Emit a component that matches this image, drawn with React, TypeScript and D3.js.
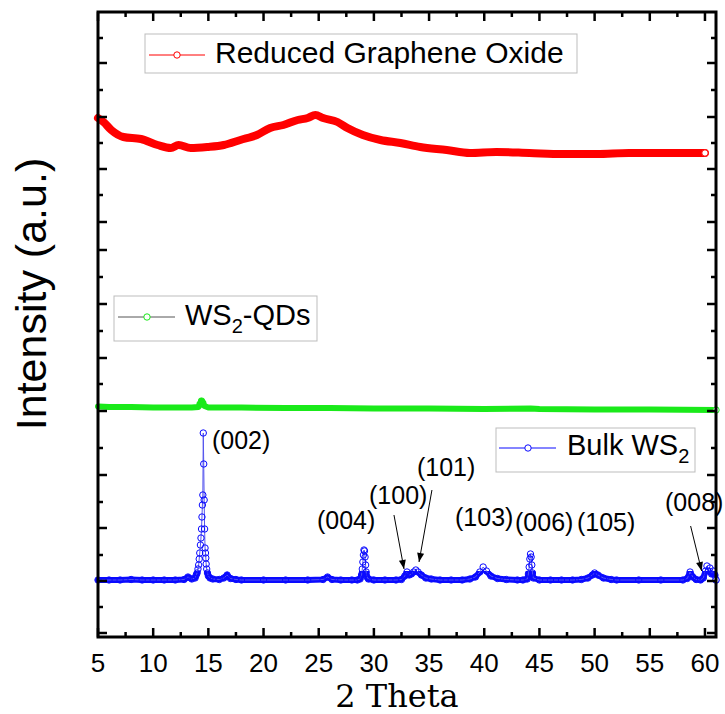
import React from 'react';
import * as d3 from 'd3';

const W = 725;
const H = 714;
const PLOT = { left: 98, right: 716, top: 12, bottom: 637 };

const xDomain: [number, number] = [5, 61];
const yDomain: [number, number] = [0, 625];

const xMajorTicks = [5, 10, 15, 20, 25, 30, 35, 40, 45, 50, 55, 60];
const xMinorTicks = [7.5, 12.5, 17.5, 22.5, 27.5, 32.5, 37.5, 42.5, 47.5, 52.5, 57.5];
const yMajorTicks = [4, 56, 109, 162, 226, 279, 333, 387, 415, 468, 520, 574];
const yMinorTicks = [30, 82, 135, 189, 253, 306, 360, 442, 494, 547, 599];

// Reduced Graphene Oxide
const rgoX = [5.0, 5.5, 6.2, 7.3, 8.9, 10.4, 11.6, 12.3, 13.4, 14.9, 16.4, 17.9, 19.4, 20.6, 21.8, 23.1, 24.0, 24.7, 25.4, 26.7, 27.6, 29.0, 30.6, 32.4, 34.2, 36.6, 38.7, 41.1, 44.1, 47.1, 50.2, 53.1, 56.1, 58.0, 60.0];
const rgoY = [519, 515, 507, 500, 498, 492, 489, 492, 489, 490, 492, 497, 502, 509, 512, 517, 519, 522, 519, 515, 509, 502, 497, 494, 490, 487, 484, 485, 484, 483, 483, 484, 484, 484, 484];

// WS2-QDs
const qdX = [5, 6, 8, 10, 12, 13.5, 14.1, 14.25, 14.38, 14.5, 14.65, 15, 18, 22, 26, 30, 35, 40, 44.2, 45, 50, 55, 61];
const qdY = [230.5, 230, 230, 229.5, 229.5, 229.5, 230, 233, 236, 234, 231, 229.5, 229.5, 229, 229, 228.5, 228.5, 228, 228.5, 228, 227.5, 227.5, 227];

// Bulk WS2
const bulkX = [5, 6, 7, 8, 9, 10, 11, 12, 12.8, 13.15, 13.5, 13.8,
  13.9, 13.98, 14.06, 14.12, 14.17, 14.22, 14.28, 14.33, 14.38, 14.42, 14.46, 14.5, 14.54, 14.58, 14.62, 14.66, 14.7, 14.74, 14.77, 14.8, 14.85, 14.92, 15.0, 15.15, 15.4,
  16, 16.4, 16.7, 17.0, 17.5, 18, 20, 22, 24, 25.4, 25.8, 26.2, 27, 28, 28.5,
  28.75, 28.88, 28.95, 29.0, 29.05, 29.1, 29.15, 29.2, 29.25, 29.3, 29.38, 29.5,
  30, 31, 32, 32.5, 32.8, 33.0, 33.2, 33.4, 33.6, 33.8, 34.0, 34.3, 34.7, 35.2, 36, 37, 38, 38.7, 39.2, 39.6, 39.9, 40.2, 40.6, 41.2, 42, 43, 43.5,
  43.9, 44.0, 44.07, 44.13, 44.19, 44.25, 44.31, 44.37, 44.45,
  45, 46, 47, 48, 48.8, 49.4, 49.8, 50.0, 50.3, 50.8, 51.5, 52, 54, 56, 58, 58.4, 58.65, 58.9, 59.2, 59.6, 59.85, 60.05, 60.18, 60.3, 60.45, 60.6, 60.75, 60.9, 61];
const bulkY = [57, 57, 57, 57.5, 57, 57, 57, 57, 57.5, 60, 58, 59,
  62, 64, 68, 72, 78, 84, 92, 99, 108, 120, 132, 142, 204, 173, 137, 108, 89, 84, 79, 73, 68, 64, 61, 59, 58,
  57.5, 59, 62, 58.5, 57.5, 57, 57, 57, 57, 57.5, 60, 57.5, 57, 57, 57,
  58, 62, 68, 75, 82, 87, 86, 80, 72, 65, 60, 58,
  57, 57, 57, 57.5, 61, 65, 62, 63, 65, 67, 65, 62, 59, 58, 57, 57, 57, 58, 60, 65, 70, 66, 61, 58.5, 57.5, 57, 57,
  58, 63, 70, 78, 83, 80, 72, 64, 59,
  57, 57, 57, 57, 57.5, 59, 62, 64, 62, 59, 57.5, 57, 57, 57, 57, 58.5, 65, 60, 57.5, 57, 59, 66, 71, 66, 69, 63, 66, 62, 57];

// Peak annotations
const peakLabels = ['(002)', '(004)', '(100)', '(101)', '(103)', '(006)', '(105)', '(008)'];
const peakLabelX = [15.33, 24.84, 29.56, 33.9, 37.35, 42.79, 48.4, 56.38];
const peakLabelY = [188, 108, 133, 161, 111, 106, 106, 126];

// Arrows
const arrowX1 = [31.82, 35.26, 58.7];
const arrowY1 = [122, 147, 111];
const arrowX2 = [32.73, 34.09, 59.7];
const arrowY2 = [68, 75, 66];

const RED = '#ff0000';
const GREEN = '#1aea1a';
const BLUE = '#0a0aff';
const SANS = '"Liberation Sans", Arial, sans-serif';

export default function App() {
  const x = d3.scaleLinear().domain(xDomain).range([PLOT.left, PLOT.right]);
  const y = d3.scaleLinear().domain(yDomain).range([PLOT.bottom, PLOT.top]);

  const line = d3.line<[number, number]>().x(d => x(d[0])).y(d => y(d[1]));
  const smooth = d3.line<[number, number]>().x(d => x(d[0])).y(d => y(d[1])).curve(d3.curveMonotoneX);

  const rgo = rgoX.map((v, i) => [v, rgoY[i]] as [number, number]);
  const qd = qdX.map((v, i) => [v, qdY[i]] as [number, number]);
  const bulk = bulkX.map((v, i) => [v, bulkY[i]] as [number, number]);

  const majorLen = 9;
  const minorLen = 5;

  const legendText = { fontFamily: SANS, fontSize: 29, fill: '#000' } as const;

  const arrowHead = (x1: number, y1: number, x2: number, y2: number) => {
    const ang = Math.atan2(y2 - y1, x2 - x1);
    const L = 9, w = 3.5;
    const bx = x2 - L * Math.cos(ang), by = y2 - L * Math.sin(ang);
    const px = -Math.sin(ang) * w, py = Math.cos(ang) * w;
    return `M${x2},${y2}L${bx + px},${by + py}L${bx - px},${by - py}Z`;
  };

  return (
    <svg width={W} height={H} style={{ position: 'absolute', left: 0, top: 0, background: '#fff' }}>
      <defs>
        <clipPath id="plotClip">
          <rect x={PLOT.left - 6} y={PLOT.top} width={PLOT.right - PLOT.left + 12} height={PLOT.bottom - PLOT.top} />
        </clipPath>
        <clipPath id="bandClip">
          <rect x={PLOT.left - 6} y={y(66)} width={PLOT.right - PLOT.left + 12} height={PLOT.bottom - y(66)} />
        </clipPath>
      </defs>
      <rect width={W} height={H} fill="#fff" />

      {/* Legends */}
      <g>
        <rect x={145} y={34} width={432} height={39} fill="#fff" stroke="#bdbdbd" strokeWidth={1} />
        <line x1={149} x2={205} y1={55} y2={55} stroke={RED} strokeWidth={1} />
        <circle cx={177} cy={55} r={3.2} fill="#fff" stroke={RED} strokeWidth={1} />
        <text x={215} y={63} style={{ ...legendText, fontSize: 30 }}>Reduced Graphene Oxide</text>

        <rect x={114} y={296} width={203} height={45} fill="#fff" stroke="#bdbdbd" strokeWidth={1} />
        <line x1={118} x2={175} y1={317} y2={317} stroke="#555" strokeWidth={1} />
        <circle cx={147} cy={317} r={3.2} fill="#fff" stroke={GREEN} strokeWidth={1} />
        <text x={185} y={325} style={legendText}>
          WS<tspan fontSize={20} dy={8}>2</tspan><tspan dy={-8}>-QDs</tspan>
        </text>

        <rect x={496} y={428} width={199} height={44} fill="#fff" stroke="#bdbdbd" strokeWidth={1} />
        <line x1={499} x2={556} y1={448} y2={448} stroke={BLUE} strokeWidth={1} />
        <circle cx={528} cy={448} r={3.2} fill="#fff" stroke={BLUE} strokeWidth={1} />
        <text x={567} y={455} style={legendText}>
          Bulk WS<tspan fontSize={20} dy={8}>2</tspan>
        </text>
      </g>

      {/* Series */}
      <g clipPath="url(#plotClip)">
        <path d={smooth(rgo) || ''} fill="none" stroke={RED} strokeWidth={8} strokeLinejoin="round" strokeLinecap="round" />
        <circle cx={x(rgoX[rgoX.length - 1])} cy={y(rgoY[rgoY.length - 1])} r={3.2} fill="#fff" stroke={RED} strokeWidth={1} />

        <path d={line(qd) || ''} fill="none" stroke={GREEN} strokeWidth={6} strokeLinejoin="round" strokeLinecap="round" />
        {qd.filter(d => d[1] > 232).map((d, i) => (
          <circle key={'q' + i} cx={x(d[0])} cy={y(d[1])} r={3} fill="none" stroke={GREEN} strokeWidth={1.2} />
        ))}
      </g>
      <circle cx={x(qdX[qdX.length - 1])} cy={y(qdY[qdY.length - 1])} r={3.2} fill="#fff" stroke={GREEN} strokeWidth={1} />

      <g>
        <g clipPath="url(#bandClip)">
          <path d={line(bulk) || ''} fill="none" stroke={BLUE} strokeWidth={6} strokeLinejoin="round" strokeLinecap="round" />
        </g>
        <path d={line(bulk) || ''} fill="none" stroke="#5555ee" strokeWidth={1} />
        {bulk.map((d, i) => (
          <circle key={'b' + i} cx={x(d[0])} cy={y(d[1])} r={3.2} fill="none" stroke={BLUE} strokeWidth={1} />
        ))}
        <circle cx={x(bulkX[bulkX.length - 1])} cy={y(bulkY[bulkY.length - 1])} r={3.2} fill="#fff" stroke={BLUE} strokeWidth={1} />
      </g>

      {/* Annotations */}
      {peakLabels.map((t, i) => (
        <text key={t} x={x(peakLabelX[i])} y={y(peakLabelY[i])} fontFamily={SANS} fontSize={25} fill="#000">{t}</text>
      ))}
      {arrowX1.map((v, i) => {
        const x1 = x(v), y1 = y(arrowY1[i]), x2 = x(arrowX2[i]), y2 = y(arrowY2[i]);
        return (
          <g key={'a' + i}>
            <line x1={x1} y1={y1} x2={x2} y2={y2} stroke="#000" strokeWidth={1} />
            <path d={arrowHead(x1, y1, x2, y2)} fill="#000" />
          </g>
        );
      })}

      {/* Axes frame and ticks */}
      <g stroke="#000" strokeWidth={2.5}>
        {xMajorTicks.map(t => (
          <g key={'xm' + t}>
            <line x1={x(t)} x2={x(t)} y1={PLOT.bottom} y2={PLOT.bottom - majorLen} />
            <line x1={x(t)} x2={x(t)} y1={PLOT.top} y2={PLOT.top + majorLen} />
          </g>
        ))}
        {xMinorTicks.map(t => (
          <g key={'xn' + t}>
            <line x1={x(t)} x2={x(t)} y1={PLOT.bottom} y2={PLOT.bottom - minorLen} />
            <line x1={x(t)} x2={x(t)} y1={PLOT.top} y2={PLOT.top + minorLen} />
          </g>
        ))}
        {yMajorTicks.map(t => (
          <g key={'ym' + t}>
            <line x1={PLOT.left} x2={PLOT.left + majorLen} y1={y(t)} y2={y(t)} />
            <line x1={PLOT.right} x2={PLOT.right - majorLen} y1={y(t)} y2={y(t)} />
          </g>
        ))}
        {yMinorTicks.map(t => (
          <g key={'yn' + t}>
            <line x1={PLOT.left} x2={PLOT.left + minorLen} y1={y(t)} y2={y(t)} />
            <line x1={PLOT.right} x2={PLOT.right - minorLen} y1={y(t)} y2={y(t)} />
          </g>
        ))}
      </g>
      <rect x={PLOT.left} y={PLOT.top} width={PLOT.right - PLOT.left} height={PLOT.bottom - PLOT.top} fill="none" stroke="#000" strokeWidth={3} />

      {xMajorTicks.map(t => (
        <text key={'xl' + t} x={x(t)} y={672} textAnchor="middle" fontFamily={SANS} fontSize={26} fill="#000">{t}</text>
      ))}

      <text x={397} y={707} textAnchor="middle" fontFamily='"DejaVu Serif", serif' fontSize={32} fill="#000">2 Theta</text>
      <text transform={`translate(46,${294}) rotate(-90)`} textAnchor="middle" fontFamily={SANS} fontSize={43} fill="#000">Intensity (a.u.)</text>
    </svg>
  );
}
